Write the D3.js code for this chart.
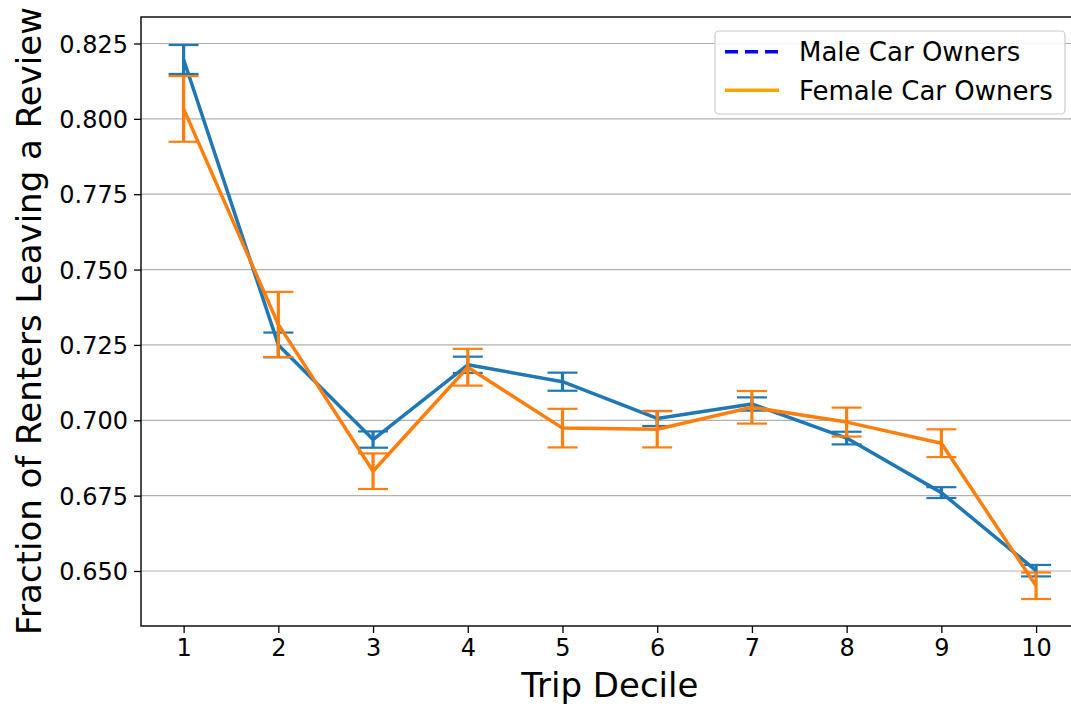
<!DOCTYPE html>
<html>
<head>
<meta charset="utf-8">
<script src="https://cdn.jsdelivr.net/npm/d3@7"></script>
<style>
  html, body { margin: 0; padding: 0; background: #fff; overflow: hidden; }
  svg { display: block; font-family: "DejaVu Sans", sans-serif; }
</style>
</head>
<body>
<svg id="chart" width="1071" height="707"></svg>
<script>
// Review rate by trip decile, split by car owner gender (mean ± error)
const deciles = [1, 2, 3, 4, 5, 6, 7, 8, 9, 10];
const maleMean = [0.8197, 0.7250, 0.6936, 0.7184, 0.7128, 0.7006, 0.7054, 0.6941, 0.6760, 0.6501];
const maleErr = [0.0048, 0.0041, 0.0027, 0.0027, 0.0030, 0.0025, 0.0022, 0.0021, 0.0018, 0.0019];
const femaleMean = [0.8033, 0.7318, 0.6831, 0.7176, 0.6974, 0.6970, 0.7043, 0.6994, 0.6924, 0.6451];
const femaleErr = [0.0109, 0.0108, 0.0059, 0.0061, 0.0064, 0.0060, 0.0054, 0.0048, 0.0046, 0.0044];
const yTicks = [0.650, 0.675, 0.700, 0.725, 0.750, 0.775, 0.800, 0.825];
const seriesNames = ["Male Car Owners", "Female Car Owners"];

const svg = d3.select("#chart");
const plot = { left: 141, top: 17, right: 1078.7, bottom: 626 };

const x = d3.scaleLinear().domain([0.55, 10.45]).range([plot.left, plot.right]);
const y = d3.scaleLinear().domain([0.63175, 0.83379]).range([plot.bottom, plot.top]);

// horizontal grid
svg.append("g")
  .selectAll("line")
  .data(yTicks)
  .join("line")
  .attr("x1", plot.left).attr("x2", plot.right)
  .attr("y1", d => y(d)).attr("y2", d => y(d))
  .attr("stroke", "#b0b0b0").attr("stroke-width", 1.2);

// axes
const xAxis = svg.append("g")
  .attr("transform", `translate(0,${plot.bottom})`)
  .call(d3.axisBottom(x).tickValues(deciles).tickFormat(d3.format("d")).tickSizeInner(7).tickSizeOuter(0).tickPadding(5));
const yAxis = svg.append("g")
  .attr("transform", `translate(${plot.left},0)`)
  .call(d3.axisLeft(y).tickValues(yTicks).tickFormat(d3.format(".3f")).tickSizeInner(7).tickSizeOuter(0).tickPadding(6));
[xAxis, yAxis].forEach(g => {
  g.select(".domain").remove();
  g.selectAll(".tick line").attr("stroke", "#000").attr("stroke-width", 1.3);
  g.selectAll(".tick text").attr("fill", "#000").style("font-size", "24px").style("font-family", "DejaVu Sans");
});
xAxis.selectAll(".tick text").attr("dy", "0.75em");
yAxis.selectAll(".tick text").attr("dy", "0.36em");

// frame
svg.append("rect")
  .attr("x", plot.left).attr("y", plot.top)
  .attr("width", plot.right - plot.left).attr("height", plot.bottom - plot.top)
  .attr("fill", "none").attr("stroke", "#000").attr("stroke-width", 1.4);

// series with error bars
const series = [
  { mean: maleMean, err: maleErr, color: "#1f77b4" },
  { mean: femaleMean, err: femaleErr, color: "#ff7f0e" }
];
const line = d3.line().x(d => x(d.x)).y(d => y(d.y));
const capHalf = 15;

series.forEach(s => {
  const pts = deciles.map((d, i) => ({ x: d, y: s.mean[i], e: s.err[i] }));
  const g = svg.append("g");
  g.append("path")
    .datum(pts)
    .attr("d", line)
    .attr("fill", "none")
    .attr("stroke", s.color)
    .attr("stroke-width", 3.5)
    .attr("stroke-linejoin", "round");
  const eb = g.selectAll("g.err").data(pts).join("g").attr("class", "err");
  eb.append("line")
    .attr("x1", d => x(d.x)).attr("x2", d => x(d.x))
    .attr("y1", d => y(d.y - d.e)).attr("y2", d => y(d.y + d.e))
    .attr("stroke", s.color).attr("stroke-width", 3.2);
  [-1, 1].forEach(sign => {
    eb.append("line")
      .attr("x1", d => x(d.x) - capHalf).attr("x2", d => x(d.x) + capHalf)
      .attr("y1", d => y(d.y + sign * d.e)).attr("y2", d => y(d.y + sign * d.e))
      .attr("stroke", s.color).attr("stroke-width", 2.2);
  });
});

// axis titles
svg.append("text")
  .attr("x", (plot.left + plot.right) / 2).attr("y", 697)
  .attr("text-anchor", "middle")
  .style("font-size", "34px")
  .text("Trip Decile");
svg.append("text")
  .attr("transform", `translate(41,321) rotate(-90)`)
  .attr("text-anchor", "middle")
  .style("font-size", "34px")
  .text("Fraction of Renters Leaving a Review");

// legend
const legend = svg.append("g");
legend.append("rect")
  .attr("x", 715).attr("y", 31).attr("width", 350).attr("height", 83).attr("rx", 4)
  .attr("fill", "#fff").attr("fill-opacity", 0.85)
  .attr("stroke", "#cccccc").attr("stroke-width", 1.2);
const legendStyles = [
  { color: "#0000ff", dash: "13,7" },
  { color: "#ffa500", dash: null }
];
seriesNames.forEach((name, i) => {
  const cy = 51.7 + i * 38.5;
  legend.append("line")
    .attr("x1", 725).attr("x2", 779).attr("y1", cy).attr("y2", cy)
    .attr("stroke", legendStyles[i].color).attr("stroke-width", 3.5)
    .attr("stroke-dasharray", legendStyles[i].dash);
  legend.append("text")
    .attr("x", 799).attr("y", cy + 9.5)
    .style("font-size", "26px")
    .text(name);
});
</script>
</body>
</html>
